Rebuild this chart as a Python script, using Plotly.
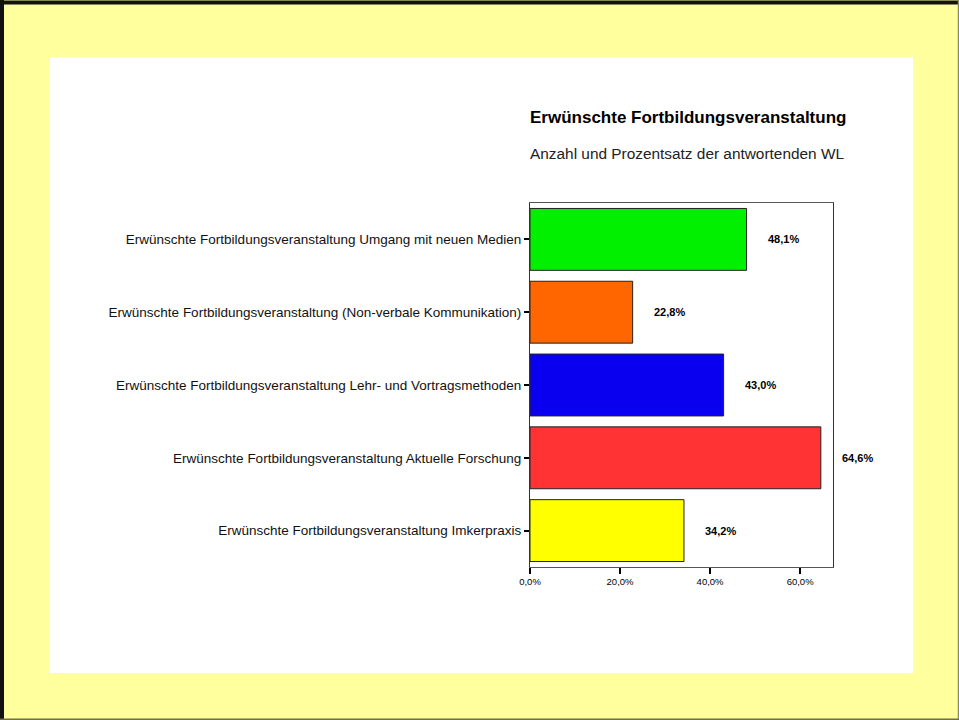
import plotly.graph_objects as go

categories = [
    "Erwünschte Fortbildungsveranstaltung Umgang mit neuen Medien",
    "Erwünschte Fortbildungsveranstaltung (Non-verbale Kommunikation)",
    "Erwünschte Fortbildungsveranstaltung Lehr- und Vortragsmethoden",
    "Erwünschte Fortbildungsveranstaltung Aktuelle Forschung",
    "Erwünschte Fortbildungsveranstaltung Imkerpraxis",
]
values = [48.1, 22.8, 43.0, 64.6, 34.2]
value_labels = ["48,1%", "22,8%", "43,0%", "64,6%", "34,2%"]
colors = ["#00F000", "#FF6600", "#0A00F0", "#FF3333", "#FFFF00"]
tick_vals = [0, 20, 40, 60]
tick_text = ["0,0%", "20,0%", "40,0%", "60,0%"]

W, H = 959, 720
L, R, T, B = 530, 833, 203, 567  # plot area in px

def px(x):
    return (x - L) / (R - L)

def py(y):
    return (B - y) / (B - T)

SANS = "Arial, Liberation Sans, sans-serif"

fig = go.Figure(go.Bar(
    x=values, y=categories, orientation="h",
    marker=dict(color=colors, line=dict(color="#222222", width=1)),
    width=0.85, hoverinfo="skip",
))

annotations = []
for c, v, t in zip(categories, values, value_labels):
    annotations.append(dict(x=v, y=c, xref="x", yref="y", text=f"<b>{t}</b>",
                            showarrow=False, xanchor="left", xshift=19,
                            font=dict(family=SANS, size=11, color="black")))
annotations.append(dict(x=0, y=py(118), xref="paper", yref="paper",
                        text="<b>Erwünschte Fortbildungsveranstaltung</b>",
                        showarrow=False, xanchor="left", yanchor="middle", xshift=-2,
                        font=dict(family=SANS, size=17, color="black")))
annotations.append(dict(x=0, y=py(153), xref="paper", yref="paper",
                        text="Anzahl und Prozentsatz der antwortenden WL",
                        showarrow=False, xanchor="left", yanchor="middle", xshift=-2,
                        font=dict(family=SANS, size=15.4, color="#222222")))

shapes = [
    dict(type="rect", xref="paper", yref="paper", x0=px(50), x1=px(913),
         y0=py(673), y1=py(57), fillcolor="white", line=dict(width=0), layer="below"),
    # top and left dark borders
    dict(type="line", xref="paper", yref="paper", x0=px(0), x1=px(959),
         y0=py(2.5), y1=py(2.5), line=dict(color="#111111", width=4), layer="above"),
    dict(type="line", xref="paper", yref="paper", x0=px(2), x1=px(2),
         y0=py(0), y1=py(720), line=dict(color="#111111", width=4), layer="above"),
    # right and bottom thin olive borders
    dict(type="line", xref="paper", yref="paper", x0=px(958.5), x1=px(958.5),
         y0=py(0), y1=py(720), line=dict(color="#8A8A60", width=1.5), layer="above"),
    dict(type="line", xref="paper", yref="paper", x0=px(0), x1=px(959),
         y0=py(719.2), y1=py(719.2), line=dict(color="#6E6E4A", width=1.6), layer="above"),
]

fig.update_layout(
    width=W, height=H,
    margin=dict(l=L, r=W - R, t=T, b=H - B, pad=0),
    paper_bgcolor="#FFFF9E", plot_bgcolor="white",
    showlegend=False, bargap=0.15,
    annotations=annotations, shapes=shapes,
    xaxis=dict(range=[0, 67.3], tickvals=tick_vals, ticktext=tick_text,
               ticks="outside", ticklen=6, tickwidth=2, tickcolor="black",
               showgrid=False, zeroline=False, showline=True, linecolor="#555555",
               linewidth=1, mirror=True,
               tickfont=dict(family=SANS, size=9.5, color="black")),
    yaxis=dict(autorange="reversed", ticks="outside", ticklen=5, tickwidth=2,
               tickcolor="black", showgrid=False, showline=True, linecolor="#333333",
               linewidth=1, mirror=True,
               tickfont=dict(family=SANS, size=13.5, color="#111111")),
)

fig.write_html("out.html", config={"displayModeBar": False},
               post_script="document.body.style.margin='0';document.body.style.overflow='hidden';")
